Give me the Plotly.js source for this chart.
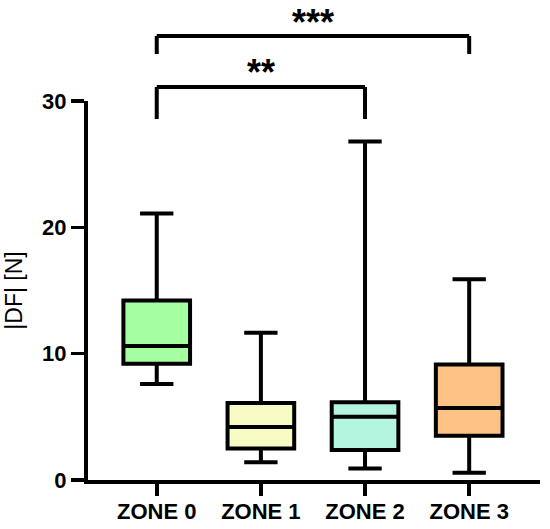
<!DOCTYPE html>
<html>
<head>
<meta charset="utf-8">
<script src="https://cdn.plot.ly/plotly-3.0.1.min.js"></script>
<style>html,body{margin:0;padding:0;background:#fff;}#chart{width:550px;height:529px;}</style>
</head>
<body>
<div id="chart"></div>
<script>
const categories = ['ZONE 0', 'ZONE 1', 'ZONE 2', 'ZONE 3'];
const lowerWhisker = [7.6, 1.4, 0.92, 0.58];
const q1Values     = [9.2, 2.5, 2.37, 3.5];
const medianValues = [10.6, 4.2, 5.0, 5.7];
const q3Values     = [14.2, 6.1, 6.15, 9.15];
const upperWhisker = [21.1, 11.65, 26.8, 15.9];
const boxColors = ['#A5FFA0', '#F8FCC4', '#B3F5DF', '#FFC285'];
const yTickValues = [0, 10, 20, 30];
const comparisons = [[0, 2], [0, 3]];
const comparisonLabels = ['**', '***'];

const FONT = 'Liberation Sans, Arial, sans-serif';

const traces = categories.map((c, i) => ({
  type: 'box',
  name: c,
  x: [c],
  q1: [q1Values[i]],
  median: [medianValues[i]],
  q3: [q3Values[i]],
  lowerfence: [lowerWhisker[i]],
  upperfence: [upperWhisker[i]],
  fillcolor: boxColors[i],
  line: {color: '#000', width: 4},
  whiskerwidth: 0.5,
  width: 0.64,
  boxpoints: false,
  showlegend: false,
  hoverinfo: 'skip'
}));

// bracket geometry (paper coords for heights)
const bracketLevels = [
  {bar: 1.037, leg: 0.9525, text: 1.075},
  {bar: 1.1715, leg: 1.124, text: 1.207}
];
const shapes = [];
const annotations = [];
comparisons.forEach((pair, k) => {
  const lv = bracketLevels[k];
  const x0 = categories[pair[0]], x1 = categories[pair[1]];
  shapes.push({type: 'line', xref: 'x', yref: 'paper', x0: x0, x1: x0, y0: lv.leg, y1: lv.bar, line: {color: '#000', width: 4}});
  shapes.push({type: 'line', xref: 'x', yref: 'paper', x0: x0, x1: x1, y0: lv.bar, y1: lv.bar, line: {color: '#000', width: 4}});
  shapes.push({type: 'line', xref: 'x', yref: 'paper', x0: x1, x1: x1, y0: lv.leg, y1: lv.bar, line: {color: '#000', width: 4}});
  annotations.push({xref: 'x', yref: 'paper', x: (pair[0] + pair[1]) / 2, y: lv.text,
    text: comparisonLabels[k], showarrow: false, xanchor: 'center', yanchor: 'middle',
    font: {family: FONT, size: 36, color: '#000', weight: 'bold'}});
});

const layout = {
  width: 550, height: 529,
  margin: {l: 88, r: 10, t: 101, b: 49},
  paper_bgcolor: '#fff', plot_bgcolor: '#fff',
  boxmode: 'overlay',
  showlegend: false,
  xaxis: {
    type: 'category',
    categoryorder: 'array', categoryarray: categories,
    range: [-0.66, 3.68],
    showgrid: false, zeroline: false,
    showline: true, linecolor: '#000', linewidth: 4,
    ticks: 'outside', ticklen: 12, tickwidth: 4, tickcolor: '#000',
    ticklabelstandoff: -3,
    tickfont: {family: FONT, size: 22, color: '#000', weight: 'bold'},
    fixedrange: true
  },
  yaxis: {
    range: [0, 30],
    tickvals: yTickValues,
    showgrid: false, zeroline: false,
    showline: true, linecolor: '#000', linewidth: 4,
    ticks: 'outside', ticklen: 13, tickwidth: 3.5, tickcolor: '#000',
    tickfont: {family: FONT, size: 22, color: '#000', weight: 'bold'},
    automargin: true,
    title: {text: '|DF| [N]', standoff: 14, font: {family: FONT, size: 23, color: '#000'}},
    fixedrange: true
  },
  shapes: shapes,
  annotations: annotations
};

Plotly.newPlot('chart', traces, layout, {displayModeBar: false, staticPlot: true});
</script>
</body>
</html>
